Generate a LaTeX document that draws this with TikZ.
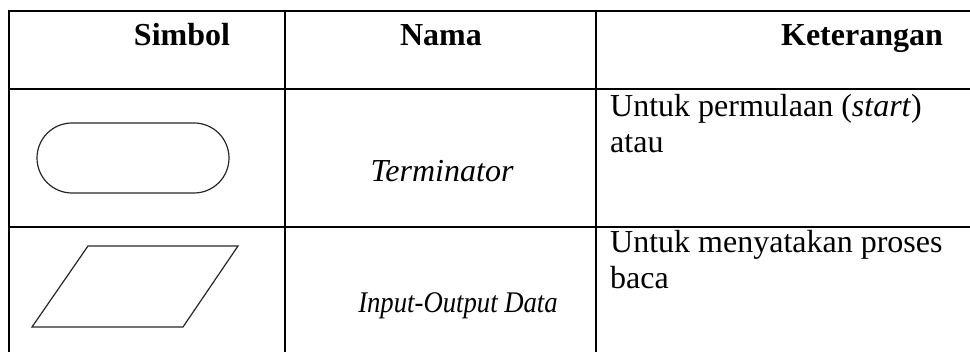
\documentclass[tikz,border=0pt]{standalone}
\usepackage{fontspec}
\setmainfont{Liberation Serif}
\begin{document}
\begin{tikzpicture}[x=1pt,y=-1pt,
  rule/.style={line width=2.6pt},
  shapeline/.style={line width=1.2pt, draw=black!85},
  txt/.style={inner sep=0pt, font=\fontsize{32}{36}\selectfont},
  head/.style={txt, font=\fontsize{32}{36}\selectfont\bfseries, anchor=base},
  namecell/.style={txt, font=\fontsize{32}{36}\selectfont\itshape, anchor=base},
  desc/.style={txt, anchor=base west, align=left}]
\useasboundingbox (0,0) rectangle (970,352);
% table rules
\draw[rule] (9,11) -- (970,11);
\draw[rule] (9,89) -- (970,89);
\draw[rule] (9,227) -- (970,227);
\draw[rule] (9,9.7) -- (9,352);
\draw[rule] (285,9.7) -- (285,352);
\draw[rule] (596,9.7) -- (596,352);
% headers
\node[head] (hsimbol) at (182,46) {Simbol};
\node[head] (hnama) at (441,46) {Nama};
\node[head] (hket) at (862,46) {Keterangan};
% row 1
\node[shapeline, draw, rounded corners=35pt, minimum width=192pt, minimum height=70pt, inner sep=0pt] (term) at (133,158) {};
\node[namecell] (nterm) at (442,182) {Terminator};
\node[desc] (d1a) at (610,117) {Untuk permulaan (\textit{start})};
\node[desc] (d1b) at (610,153) {atau};
% row 2
\draw[shapeline] (88,246) coordinate (p1) -- (238,246) coordinate (p2) -- (183,327) coordinate (p3) -- (32,327) coordinate (p4) -- cycle;
\node[namecell, font=\fontsize{30}{34}\selectfont\itshape] (nio) at (458,313) {\scalebox{0.89}[1]{Input-Output Data}};
\node[desc] (d2a) at (610,253) {Untuk menyatakan proses};
\node[desc] (d2b) at (610,289) {baca};
\end{tikzpicture}
\end{document}
